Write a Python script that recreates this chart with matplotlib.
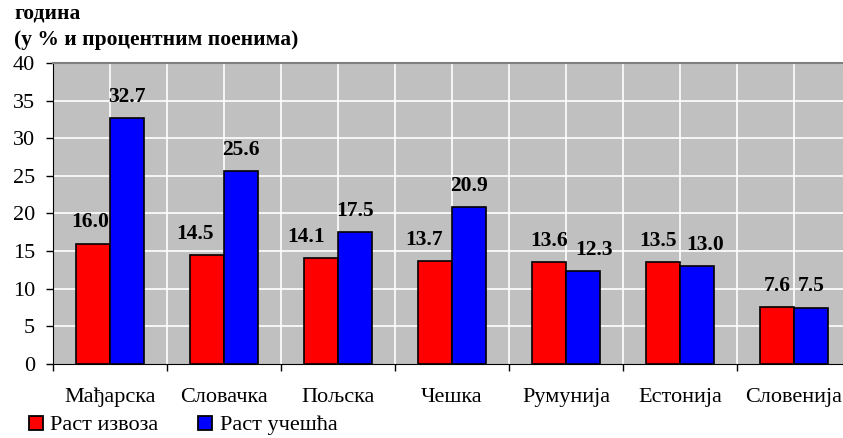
import matplotlib
matplotlib.use("Agg")
import matplotlib.pyplot as plt
from matplotlib.lines import Line2D
import numpy as np

countries = ["Мађарска", "Словачка", "Пољска", "Чешка", "Румунија", "Естонија", "Словенија"]
export_growth = [16.0, 14.5, 14.1, 13.7, 13.6, 13.5, 7.6]
share_growth = [32.7, 25.6, 17.5, 20.9, 12.3, 13.0, 7.5]
series_names = ["Раст извоза", "Раст учешћа"]
title_lines = ["година", "(у % и процентним поенима)"]

plt.rcParams["font.family"] = ["Liberation Serif", "DejaVu Serif"]

W, H = 843, 438
fig = plt.figure(figsize=(W / 100, H / 100), dpi=100)
ax = fig.add_axes([53 / W, (H - 364) / H, 798 / W, 301 / H])

x = np.arange(len(countries))
bw = 0.295
ax.set_facecolor("#c0c0c0")
ax.bar(x - bw / 2, export_growth, bw, color="#ff0000", edgecolor="black", linewidth=1.2, zorder=3)
ax.bar(x + bw / 2, share_growth, bw, color="#0000ff", edgecolor="black", linewidth=1.2, zorder=3)

# value labels (Excel nudges some of them sideways)
red_dx = [-2, -9, -11, -8, 0, -4, 0]
blue_dx = [0, 0, 0, 0, 8, 6, 0]
for i in range(len(countries)):
    ax.annotate(f"{export_growth[i]:.1f}", (x[i] - bw / 2, export_growth[i]),
                textcoords="offset points", xytext=(red_dx[i], 8),
                ha="center", va="bottom", fontsize=15.5, fontweight="bold")
    ax.annotate(f"{share_growth[i]:.1f}", (x[i] + bw / 2, share_growth[i]),
                textcoords="offset points", xytext=(blue_dx[i], 8),
                ha="center", va="bottom", fontsize=15.5, fontweight="bold")

ax.set_xlim(-0.5, len(countries) - 0.5)
ax.set_ylim(0, 40)
ax.set_yticks(range(0, 41, 5))
ax.tick_params(axis="y", direction="out", length=5, width=1, labelsize=16, pad=8)

# tick marks at category boundaries, labels at centres
ax.set_xticks(np.arange(-0.5, len(countries), 1.0))
ax.set_xticklabels([])
ax.set_xticks(x, minor=True)
ax.set_xticklabels(countries, minor=True, fontsize=16)
ax.tick_params(axis="x", which="major", direction="out", length=5, width=1)
ax.tick_params(axis="x", which="minor", length=0, pad=17)

# white grid: horizontal at every 5, vertical at centres and boundaries
for yv in range(5, 40, 5):
    ax.axhline(yv, color="white", linewidth=1.2, zorder=1)
for xv in np.arange(-0.5, len(countries), 0.5):
    ax.axvline(xv, color="white", linewidth=1.2, zorder=1)

ax.spines["left"].set_color("black")
ax.spines["bottom"].set_color("black")
ax.spines["top"].set_color("#808080")
ax.spines["top"].set_linewidth(1.5)
ax.spines["right"].set_color("#808080")

fig.text(14 / W, 1 - 19 / H, title_lines[0], fontsize=15.5, fontweight="bold", va="baseline")
fig.text(14 / W, 1 - 45 / H, title_lines[1], fontsize=15.5, fontweight="bold", va="baseline")

handles = [Line2D([], [], marker="s", linestyle="none", markersize=9.5, markerfacecolor=c,
                  markeredgecolor="black", markeredgewidth=1.3) for c in ("#ff0000", "#0000ff")]
fig.legend(handles, series_names, loc="center left", bbox_to_anchor=(27 / W, 1 - 425 / H),
           ncol=2, frameon=False, fontsize=16, handlelength=0.8, handletextpad=0.25,
           columnspacing=1.7, borderaxespad=0, borderpad=0)

fig.savefig("out.png", dpi=100)
